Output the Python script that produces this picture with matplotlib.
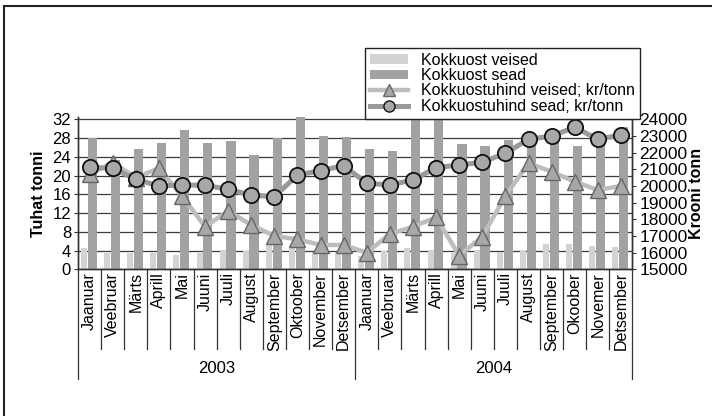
import matplotlib.pyplot as plt
import numpy as np
from matplotlib.patches import Patch
from matplotlib.lines import Line2D
import matplotlib.transforms as mtransforms

plt.rcParams['font.family'] = ['Liberation Sans', 'DejaVu Sans']

# kuud ja aastad
months_2003 = ['Jaanuar', 'Veebruar', 'Märts', 'Aprill', 'Mai', 'Juuni', 'Juuli',
               'August', 'September', 'Oktoober', 'November', 'Detsember']
months_2004 = ['Jaanuar', 'Veebruar', 'Märts', 'Aprill', 'Mai', 'Juuni', 'Juuli',
               'August', 'September', 'Okoober', 'Novemer', 'Detsember']
years = ['2003', '2004']

# kokkuost, tuhat tonni
veised_t = [4.5, 3.4, 3.4, 3.5, 3.1, 3.4, 4.1, 4.0, 5.3, 5.0, 3.8, 3.8,
            2.8, 4.0, 4.5, 4.1, 3.5, 4.1, 3.8, 4.1, 5.5, 5.3, 5.0, 4.8]
sead_t = [27.9, 23.3, 25.6, 26.9, 29.7, 26.9, 27.4, 24.4, 27.9, 32.4, 28.5, 28.3,
          25.6, 25.2, 35.0, 34.0, 26.7, 26.2, 27.6, 27.8, 28.0, 26.3, 28.0, 30.4]

# kokkuostuhind, kr/tonn
hind_veised = [20700, 21400, 20500, 21060, 19400, 17560, 18500, 17660, 17000, 16800, 16460, 16460,
               16000, 17120, 17560, 18120, 15820, 16960, 19400, 21360, 20860, 20260, 19760, 20000]
hind_sead = [21120, 21060, 20400, 20000, 20060, 20040, 19800, 19450, 19360, 20660, 20920, 21220,
             20160, 20060, 20360, 21100, 21260, 21420, 21960, 22800, 23000, 23520, 22800, 23060]

months = months_2003 + months_2004
x = np.arange(len(months))

light = '#d3d3d3'
dark = '#a2a2a2'

fig = plt.figure(figsize=(7.12, 4.16), dpi=100)
ax = fig.add_axes([0.1096, 0.3526, 0.7787, 0.3652])
ax2 = ax.twinx()

ax.bar(x - 0.24, veised_t, width=0.26, color=light, zorder=2)
ax.bar(x + 0.12, sead_t, width=0.40, color=dark, zorder=2)

ax.set_ylim(0, 32.4)
ax.set_yticks(np.arange(0, 33, 4))
ax.set_xlim(-0.5, len(months) - 0.5)
ax.set_xticks([])
ax.yaxis.grid(True, color='#3a3a3a', lw=0.9)
ax.set_axisbelow(True)
ax.tick_params(axis='y', labelsize=12, length=3, color='#333', pad=2)
ax.set_ylabel('Tuhat tonni', fontsize=11.5, fontweight='bold', labelpad=5)

ax2.plot(x, hind_veised, color='#bdbdbd', lw=3.2, marker='^', markersize=12,
         markerfacecolor='#a8a8a8', markeredgecolor='#666666', markeredgewidth=1.0, zorder=3)
ax2.plot(x, hind_sead, color='#9a9a9a', lw=3.6, marker='o', markersize=11,
         markerfacecolor='#a8a8a8', markeredgecolor='#111111', markeredgewidth=1.3, zorder=4)
ax2.set_ylim(15000, 15000 + 32.4 / 32 * 9000)
ax2.set_yticks(np.arange(15000, 24001, 1000))
ax2.tick_params(axis='y', labelsize=12.5, length=3, color='#333', pad=2)
ax2.set_ylabel('Krooni tonn', fontsize=11.5, fontweight='bold', labelpad=1)

for a in (ax, ax2):
    a.spines['top'].set_visible(False)
    for s in ('left', 'right', 'bottom'):
        a.spines[s].set_color('#333333')
        a.spines[s].set_linewidth(1.0)

# kategooria telg: kuud ja aastad
trans = mtransforms.blended_transform_factory(ax.transData, ax.transAxes)
for i, m in enumerate(months):
    ax.text(i, -0.02, m, rotation=90, ha='center', va='top', fontsize=11.5,
            transform=trans, clip_on=False)
for b in np.arange(-0.5, len(months), 1.0):
    depth = -0.72 if b in (-0.5, 11.5, 23.5) else -0.527
    ax.plot([b, b], [0, depth], color='#333333', lw=0.9, transform=trans, clip_on=False)
for k, yr in enumerate(years):
    ax.text(5.5 + 12 * k, -0.65, yr, ha='center', va='center', fontsize=12,
            transform=trans, clip_on=False)

handles = [
    Patch(facecolor=light, edgecolor='none'),
    Patch(facecolor=dark, edgecolor='none'),
    Line2D([], [], color='#bdbdbd', lw=3.2, marker='^', markersize=8,
           markerfacecolor='#a8a8a8', markeredgecolor='#666666'),
    Line2D([], [], color='#9a9a9a', lw=3.6, marker='o', markersize=8,
           markerfacecolor='#a8a8a8', markeredgecolor='#111111'),
]
labels = ['Kokkuost veised', 'Kokkuost sead',
          'Kokkuostuhind veised; kr/tonn', 'Kokkuostuhind sead; kr/tonn']
leg = fig.legend(handles, labels, loc='upper right', bbox_to_anchor=(639.5 / 712, 1 - 48 / 416),
                 fontsize=11.5, frameon=True, fancybox=False, framealpha=1,
                 edgecolor='#222222', borderpad=0.3, labelspacing=0.02,
                 handlelength=2.4, handleheight=0.55, handletextpad=0.8, borderaxespad=0)
leg.get_frame().set_linewidth(1.0)

# ramjoon
fig.add_artist(Line2D([4 / 712, 1.0], [1 - 6 / 416, 1 - 6 / 416], color='#222222', lw=1.5))
fig.add_artist(Line2D([4 / 712, 4 / 712], [0, 1 - 6 / 416], color='#222222', lw=1.5))

fig.savefig('out.png', dpi=100)
